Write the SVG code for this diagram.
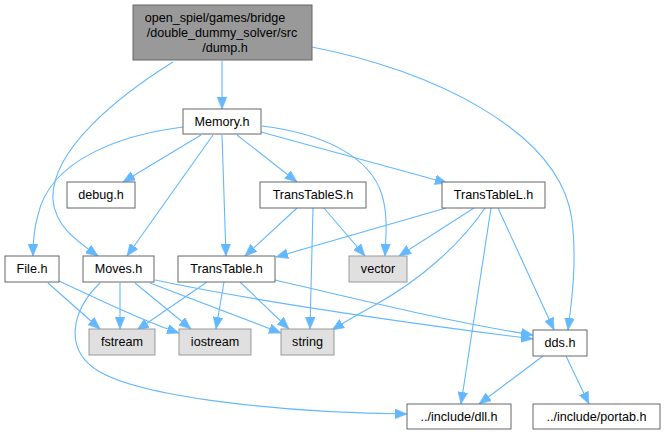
<svg xmlns="http://www.w3.org/2000/svg" width="664" height="435" viewBox="0 0 664 435">
<defs>
<marker id="ah" markerUnits="userSpaceOnUse" markerWidth="12" markerHeight="10" refX="11" refY="4.5" viewBox="0 0 11 9" orient="auto">
<path d="M0,0 L11,4.5 L0,9 z" fill="#63b8ff" stroke="#63b8ff" stroke-width="0.5"/>
</marker>
</defs>
<style>
.n rect{fill:#ffffff;stroke:#666666;stroke-width:1}
.g rect{fill:#e0e0e0;stroke:#999999;stroke-width:1}
.r rect{fill:#999999;stroke:#666666;stroke-width:1}
text{font-family:"Liberation Sans",Arial,Helvetica,sans-serif;font-size:12.6px;fill:#000000;text-anchor:middle}
#edges path{fill:none;stroke:#63b8ff;stroke-width:1.1;marker-end:url(#ah)}
</style>
<rect width="664" height="435" fill="#ffffff"/>
<g id="edges">
<path d="M222,61 L222,109"/>
<path d="M173,62 C120,95 50,150 53,200 C55,225 75,240 98,256"/>
<path d="M312,47 C430,70 560,130 572,220 C577,260 572,300 568,330"/>
<path d="M183,127 C120,135 50,160 38,215 C34,228 33,240 33,256"/>
<path d="M201,135 L123,182"/>
<path d="M213,135 L127,256"/>
<path d="M222,135 L226,256"/>
<path d="M237,135 L297,182"/>
<path d="M261,132 L447,183"/>
<path d="M262,126 C320,133 370,155 382,195 C388,215 386,235 385,256"/>
<path d="M297,208 L245,256"/>
<path d="M313,208 L310,329"/>
<path d="M324,208 L365,256"/>
<path d="M446,208 L276,257"/>
<path d="M474,208 L399,256"/>
<path d="M485,208 C460,245 420,280 375,305 C355,316 343,323 332,330"/>
<path d="M491,208 L461,404"/>
<path d="M498,208 L554,330"/>
<path d="M207,282 L137,330"/>
<path d="M224,282 L216,329"/>
<path d="M240,282 L289,329"/>
<path d="M275,280 C360,300 450,322 533,335"/>
<path d="M155,280 C250,300 400,322 533,339"/>
<path d="M120,283 L120,329"/>
<path d="M135,283 L191,329"/>
<path d="M150,283 L281,333"/>
<path d="M100,283 C72,310 62,350 100,372 C150,400 300,413 407,414"/>
<path d="M48,283 L100,329"/>
<path d="M59,281 C100,300 140,320 179,333"/>
<path d="M543,356 L479,404"/>
<path d="M566,356 L589,404"/>
</g>
<g id="dump" class="r"><rect x="133" y="5" width="179" height="55"/><text x="215" y="22">open_spiel/games/bridge</text><text x="222" y="37">/double_dummy_solver/src</text><text x="225" y="52">/dump.h</text></g>
<g id="memory" class="n"><rect x="183" y="109" width="78" height="25"/><text x="222" y="126">Memory.h</text></g>
<g id="debug" class="n"><rect x="67" y="182" width="68" height="26"/><text x="101" y="199">debug.h</text></g>
<g id="transtables" class="n"><rect x="260" y="182" width="106" height="26"/><text x="313" y="199">TransTableS.h</text></g>
<g id="transtablel" class="n"><rect x="442" y="182" width="103" height="26"/><text x="493.5" y="199">TransTableL.h</text></g>
<g id="vector" class="g"><rect x="349" y="256" width="58" height="26"/><text x="378" y="273">vector</text></g>
<g id="file" class="n"><rect x="5" y="256" width="54" height="26"/><text x="32" y="273">File.h</text></g>
<g id="moves" class="n"><rect x="83" y="256" width="71" height="26"/><text x="118.5" y="273">Moves.h</text></g>
<g id="transtable" class="n"><rect x="178" y="256" width="97" height="26"/><text x="226.5" y="273">TransTable.h</text></g>
<g id="fstream" class="g"><rect x="89" y="329" width="66" height="26"/><text x="122" y="346">fstream</text></g>
<g id="iostream" class="g"><rect x="179" y="329" width="72" height="26"/><text x="215" y="346">iostream</text></g>
<g id="string" class="g"><rect x="281" y="329" width="53" height="26"/><text x="307.5" y="346">string</text></g>
<g id="dds" class="n"><rect x="533" y="330" width="54" height="26"/><text x="560" y="347">dds.h</text></g>
<g id="dll" class="n"><rect x="407" y="404" width="104" height="25"/><text x="459" y="421">../include/dll.h</text></g>
<g id="portab" class="n"><rect x="533" y="404" width="127" height="25"/><text x="596.5" y="421">../include/portab.h</text></g>
</svg>
